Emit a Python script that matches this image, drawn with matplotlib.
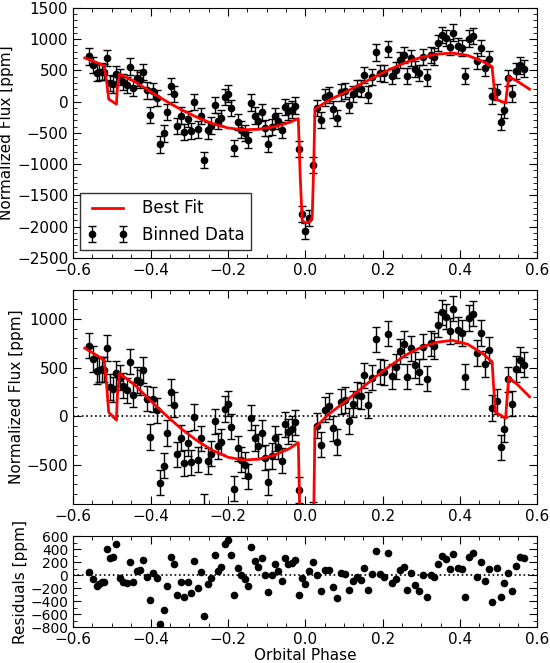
import numpy as np
import matplotlib.pyplot as plt
from matplotlib.ticker import MultipleLocator, AutoMinorLocator

# binned data phases and residuals [ppm]
phase = [-0.559, -0.548, -0.539, -0.532, -0.525, -0.520, -0.513, -0.506, -0.497, -0.488,
         -0.479, -0.471, -0.462, -0.454, -0.444, -0.436, -0.427, -0.419, -0.410, -0.402,
         -0.393, -0.384, -0.375, -0.366, -0.357, -0.348, -0.340, -0.331, -0.322, -0.313,
         -0.304, -0.296, -0.287, -0.278, -0.269, -0.261, -0.252, -0.243, -0.234, -0.225,
         -0.217, -0.208, -0.200, -0.191, -0.183, -0.174, -0.165, -0.156, -0.147, -0.139,
         -0.130, -0.122, -0.113, -0.105, -0.096, -0.087, -0.079, -0.070, -0.061, -0.052,
         -0.044, -0.035, -0.026, -0.017, -0.009, 0.000, 0.010, 0.021, 0.031, 0.042,
         0.052, 0.062, 0.072, 0.082, 0.093, 0.102, 0.113, 0.123, 0.133, 0.143,
         0.153, 0.163, 0.173, 0.183, 0.193, 0.204, 0.213, 0.224, 0.234, 0.244,
         0.254, 0.264, 0.274, 0.284, 0.294, 0.304, 0.314, 0.324, 0.333, 0.343,
         0.353, 0.363, 0.373, 0.383, 0.394, 0.404, 0.414, 0.424, 0.434, 0.444,
         0.454, 0.464, 0.474, 0.484, 0.495, 0.505, 0.515, 0.525, 0.535, 0.545,
         0.555, 0.565]
resid = [50, -60, -160, -130, -110, -100, 400, 270, 280, 480,
         -40, -100, -120, 200, -110, 70, 80, 240, -20, -380,
         40, -40, -750, -540, -170, 280, 180, -300, -100, -330,
         -100, -270, 220, -190, 50, -630, -140, -40, 310, 70,
         130, 480, 550, 320, -310, 110, 0, -50, -170, 430,
         220, 130, 260, 0, -260, 0, 170, 70, -90, 270,
         180, 190, 230, -300, -40, -130, 60, 200, 0, -240,
         80, 80, -180, -350, 30, 20, -230, -90, -30, -70,
         110, -230, 20, 380, 20, -20, 350, -120, -50, 80,
         130, -230, 40, -150, -240, 0, -340, 10, -30, 180,
         300, 250, 100, 330, 120, 100, -340, 280, 350, -30,
         200, -90, 90, -410, 120, -330, -120, 30, -240, 150,
         280, 270]
err = 130

# best-fit model
model_phase = [-0.57, -0.545, -0.52, -0.513, -0.508, -0.488, -0.486, -0.48, -0.44, -0.40,
               -0.36, -0.32, -0.28, -0.24, -0.20, -0.16, -0.12, -0.08, -0.04, -0.018,
               -0.013, -0.008, 0.0, 0.012, 0.018, 0.022, 0.025, 0.06, 0.10, 0.14,
               0.18, 0.22, 0.26, 0.30, 0.34, 0.38, 0.42, 0.46, 0.483, 0.487,
               0.492, 0.518, 0.522, 0.526, 0.55, 0.58]
model_flux = [700, 640, 580, 300, 40, -40, 200, 440, 320, 160,
              10, -130, -250, -350, -420, -450, -440, -400, -330, -270,
              -1200, -1900, -1940, -1920, -1850, -1000, -120, 20, 140, 270,
              400, 520, 630, 710, 760, 780, 740, 640, 560, 300,
              40, -20, 200, 400, 320, 200]

flux = np.interp(phase, model_phase, model_flux) + np.array(resid)

fig = plt.figure(figsize=(5.5, 6.63), dpi=100)
ax1 = fig.add_axes([0.133, 0.611, 0.844, 0.377])
ax2 = fig.add_axes([0.133, 0.240, 0.844, 0.323])
ax3 = fig.add_axes([0.133, 0.054, 0.844, 0.137])

for ax in (ax1, ax2, ax3):
    ax.set_xlim(-0.6, 0.6)
    ax.xaxis.set_major_locator(MultipleLocator(0.2))
    ax.xaxis.set_minor_locator(MultipleLocator(0.05))
    ax.yaxis.set_minor_locator(AutoMinorLocator(5))
    ax.tick_params(which='both', direction='in', top=True, right=True, labelsize=11)
    ax.tick_params(which='major', length=6)
    ax.tick_params(which='minor', length=3)

for ax in (ax1, ax2):
    ax.plot(model_phase, model_flux, color='red', lw=2, label='Best Fit', zorder=3)
    ax.errorbar(phase, flux, yerr=err, fmt='o', color='black', ms=4.5,
                ecolor='black', elinewidth=1, capsize=3, label='Binned Data', zorder=2)
    ax.set_ylabel('Normalized Flux [ppm]', fontsize=11, labelpad=2)

ax1.set_ylim(-2500, 1500)
ax1.yaxis.set_major_locator(MultipleLocator(500))
ax1.legend(loc='lower left', fontsize=12, fancybox=False, edgecolor='black',
           bbox_to_anchor=(0.015, 0.03), borderaxespad=0, numpoints=2,
           handlelength=2.5)

ax2.set_ylim(-900, 1300)
ax2.yaxis.set_major_locator(MultipleLocator(500))
ax2.axhline(0, color='black', ls=':', lw=1.2)

ax3.plot(phase, resid, 'o', color='black', ms=4.5)
ax3.axhline(0, color='black', ls=':', lw=1.2)
ax3.set_ylim(-800, 600)
ax3.yaxis.set_major_locator(MultipleLocator(200))
ax3.yaxis.set_minor_locator(MultipleLocator(100))
ax3.tick_params(axis='y', labelsize=10)
ax3.set_ylabel('Residuals [ppm]', fontsize=11, labelpad=2)
ax3.set_xlabel('Orbital Phase', fontsize=11, labelpad=1)

fig.savefig('out.png', dpi=100)
